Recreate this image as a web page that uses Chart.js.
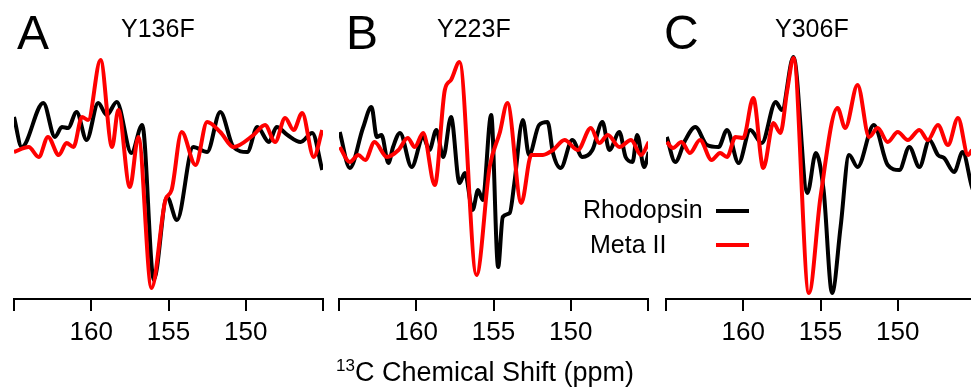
<!DOCTYPE html>
<html>
<head>
<meta charset="utf-8">
<script src="https://cdn.jsdelivr.net/npm/chart.js@4.4.1/dist/chart.umd.min.js"></script>
<style>
    body {
        margin: 0;
        width: 971px;
        height: 387px;
        overflow: hidden;
        position: relative;
        background: #fff;
        font-family: 'Liberation Sans', Arial, sans-serif;
        color: #000;
    }
    .panel { position: absolute; top: 0; width: 340px; height: 349px; }
    .txt { position: absolute; line-height: 1; white-space: nowrap; }
    .letter { font-size: 48px; top: 9px; }
    .mutant { font-size: 25px; top: 16px; }
    .leg { font-size: 25px; }
    .legline { position: absolute; height: 4px; width: 33px; left: 716px; }
    .xtitle { font-size: 27px; top: 359px; left: 336px; }
    .xtitle sup { font-size: 17px; position: relative; top: -2px; vertical-align: top; }
</style>
</head>
<body>
<div class="panel" style="left:0px"><canvas id="chartA" width="340" height="349"></canvas></div>
<div class="panel" style="left:325px"><canvas id="chartB" width="340" height="349"></canvas></div>
<div class="panel" style="left:652px"><canvas id="chartC" width="340" height="349"></canvas></div>

<div class="txt letter" style="left:17px">A</div>
<div class="txt letter" style="left:346px">B</div>
<div class="txt letter" style="left:664px">C</div>
<div class="txt mutant" id="mutA" style="left:121px"></div>
<div class="txt mutant" id="mutB" style="left:437px"></div>
<div class="txt mutant" id="mutC" style="left:775px"></div>

<div class="txt leg" id="legRho" style="left:583px; top:197px"></div>
<div class="legline" style="top:209px; background:#000"></div>
<div class="txt leg" id="legMeta" style="left:590px; top:232px"></div>
<div class="legline" style="top:243px; background:#ff0000"></div>

<div class="txt xtitle"><sup>13</sup>C Chemical Shift (ppm)</div>

<script>
// panel labels and series names
const mutants = ['Y136F', 'Y223F', 'Y306F'];
const seriesNames = ['Rhodopsin', 'Meta II'];
const tickLabels = [160, 155, 150];
const ppmRange = [145, 165];

// Panel A (Y136F)
const ppmA_rho = [165.0, 164.5, 163.1, 162.35, 161.9, 161.5, 160.95, 160.3, 159.55, 159.0, 158.35, 157.4, 156.7, 155.95, 155.1, 154.45, 153.4, 152.5, 151.65, 150.8, 149.9, 149.25, 148.5, 148.0, 147.3, 146.45, 145.7, 145.05];
const intA_rho = [33, 3, 47, 13, 23, 22, 38, 10, 47, 35, 48, -3, 25, -130, -47, -70, 3, -2, 38, 3, -2, 23, 8, 23, 15, 8, 17, -20];
const ppmA_meta = [165.0, 164.05, 163.4, 162.8, 162.1, 161.6, 161.15, 160.6, 160.2, 159.4, 158.65, 158.25, 157.5, 156.95, 156.1, 155.2, 154.8, 154.15, 153.25, 152.5, 151.65, 150.8, 149.5, 148.75, 148.1, 147.45, 146.9, 146.35, 145.6, 145.05];
const intA_meta = [-2, 3, -7, 13, -5, 7, 3, 33, 30, 90, 3, 40, -37, 13, -138, -50, -40, 18, -15, 28, 18, 3, 15, 25, 8, 32, 20, 37, -7, 20];

// Panel B (Y223F)
const ppmB_rho = [164.95, 164.3, 163.45, 162.9, 162.55, 162.25, 161.8, 161.5, 161.05, 160.3, 159.55, 159.15, 158.7, 158.25, 157.75, 157.2, 156.85, 156.35, 156.0, 155.7, 155.15, 154.7, 154.4, 153.95, 153.65, 153.1, 152.7, 152.05, 151.5, 151.15, 150.65, 149.9, 149.25, 148.6, 147.95, 147.5, 146.85, 146.45, 146.0, 145.7, 145.25, 144.95];
const intB_rho = [18, -18, 22, 43, 13, 15, -13, 3, 17, -17, 13, 0, 20, -7, 33, -33, -23, -60, -40, -50, 35, -117, -67, -63, -33, 30, -5, 25, 28, -3, -18, 10, -7, 0, 28, 0, 18, -7, -12, 15, -17, -2];
const ppmB_meta = [164.95, 164.3, 163.75, 163.3, 162.7, 161.9, 161.15, 160.55, 160.1, 159.55, 158.8, 158.15, 157.75, 157.2, 156.1, 155.25, 154.6, 154.1, 153.2, 152.55, 151.8, 151.15, 150.4, 149.55, 148.7, 148.15, 147.6, 146.85, 146.1, 145.45, 144.95];
const intB_meta = [3, -12, -5, -10, 8, -7, 0, 12, 3, 17, -35, 60, 70, 88, -125, -17, 17, 47, -53, -5, -5, 0, 10, 0, 22, 7, 15, 3, 10, -5, 8];

// Panel C (Y306F)
const ppmC_rho = [164.95, 164.4, 163.75, 163.1, 162.35, 161.6, 161.05, 160.3, 159.55, 158.8, 157.9, 157.5, 156.75, 155.85, 155.3, 154.8, 154.25, 153.7, 153.15, 152.6, 151.55, 150.65, 149.9, 149.25, 148.6, 147.95, 147.4, 147.0, 146.35, 145.8, 145.2, 145.0];
const intC_rho = [13, -12, 10, 23, 5, 3, 20, -13, 20, 7, 48, 40, 93, -43, -3, -40, -143, -77, -5, -17, 25, -15, -20, 3, -17, 10, -5, -8, -22, -2, -37, -45];
const ppmC_meta = [164.95, 164.55, 164.0, 163.45, 162.8, 162.05, 161.5, 161.05, 160.5, 160.0, 159.35, 158.7, 158.05, 157.6, 157.15, 156.75, 155.75, 155.0, 153.9, 153.4, 152.6, 151.85, 151.3, 150.65, 150.0, 149.35, 148.6, 148.05, 147.4, 146.75, 146.1, 145.45, 145.2];
const intC_meta = [8, 2, 8, -3, 10, -10, -3, -7, 13, 12, 52, -18, 27, 17, 60, 92, -143, -47, 42, 22, 65, 13, 22, 8, 18, 10, 20, 10, 25, 5, 32, -5, 0];

Chart.defaults.font.family = "'Liberation Sans', Arial, sans-serif";
Chart.defaults.color = '#000';

function toPoints(xs, ys) {
    return xs.map((x, i) => ({ x: x, y: ys[i] }));
}

function makePanel(id, rhoX, rhoY, metaX, metaY) {
    const ctx = document.getElementById(id).getContext('2d');
    return new Chart(ctx, {
        type: 'line',
        data: {
            datasets: [
                {
                    label: seriesNames[1],
                    data: toPoints(metaX, metaY),
                    borderColor: '#ff0000',
                    borderWidth: 4,
                    pointRadius: 0,
                    cubicInterpolationMode: 'monotone',
                    order: 0
                },
                {
                    label: seriesNames[0],
                    data: toPoints(rhoX, rhoY),
                    borderColor: '#000000',
                    borderWidth: 4,
                    pointRadius: 0,
                    cubicInterpolationMode: 'monotone',
                    order: 1
                }
            ]
        },
        options: {
            responsive: false,
            animation: false,
            devicePixelRatio: 1,
            layout: { padding: { left: 14, right: 17, top: 0, bottom: 0 } },
            plugins: { legend: { display: false }, tooltip: { enabled: false } },
            scales: {
                x: {
                    type: 'linear',
                    reverse: true,
                    min: ppmRange[0],
                    max: ppmRange[1],
                    afterFit: (scale) => { scale.height = 50; },
                    border: { display: true, color: '#000', width: 2 },
                    grid: {
                        display: true,
                        drawOnChartArea: false,
                        drawTicks: true,
                        tickLength: 12,
                        color: '#000',
                        lineWidth: 2
                    },
                    ticks: {
                        stepSize: 5,
                        padding: 6,
                        maxRotation: 0,
                        autoSkip: false,
                        color: '#000',
                        font: { size: 26 },
                        callback: (v) => tickLabels.includes(v) ? String(v) : ''
                    }
                },
                y: {
                    display: false,
                    min: -149,
                    max: 150
                }
            }
        }
    });
}

document.getElementById('mutA').textContent = mutants[0];
document.getElementById('mutB').textContent = mutants[1];
document.getElementById('mutC').textContent = mutants[2];
document.getElementById('legRho').textContent = seriesNames[0];
document.getElementById('legMeta').textContent = seriesNames[1];

makePanel('chartA', ppmA_rho, intA_rho, ppmA_meta, intA_meta);
makePanel('chartB', ppmB_rho, intB_rho, ppmB_meta, intB_meta);
makePanel('chartC', ppmC_rho, intC_rho, ppmC_meta, intC_meta);
</script>
</body>
</html>
